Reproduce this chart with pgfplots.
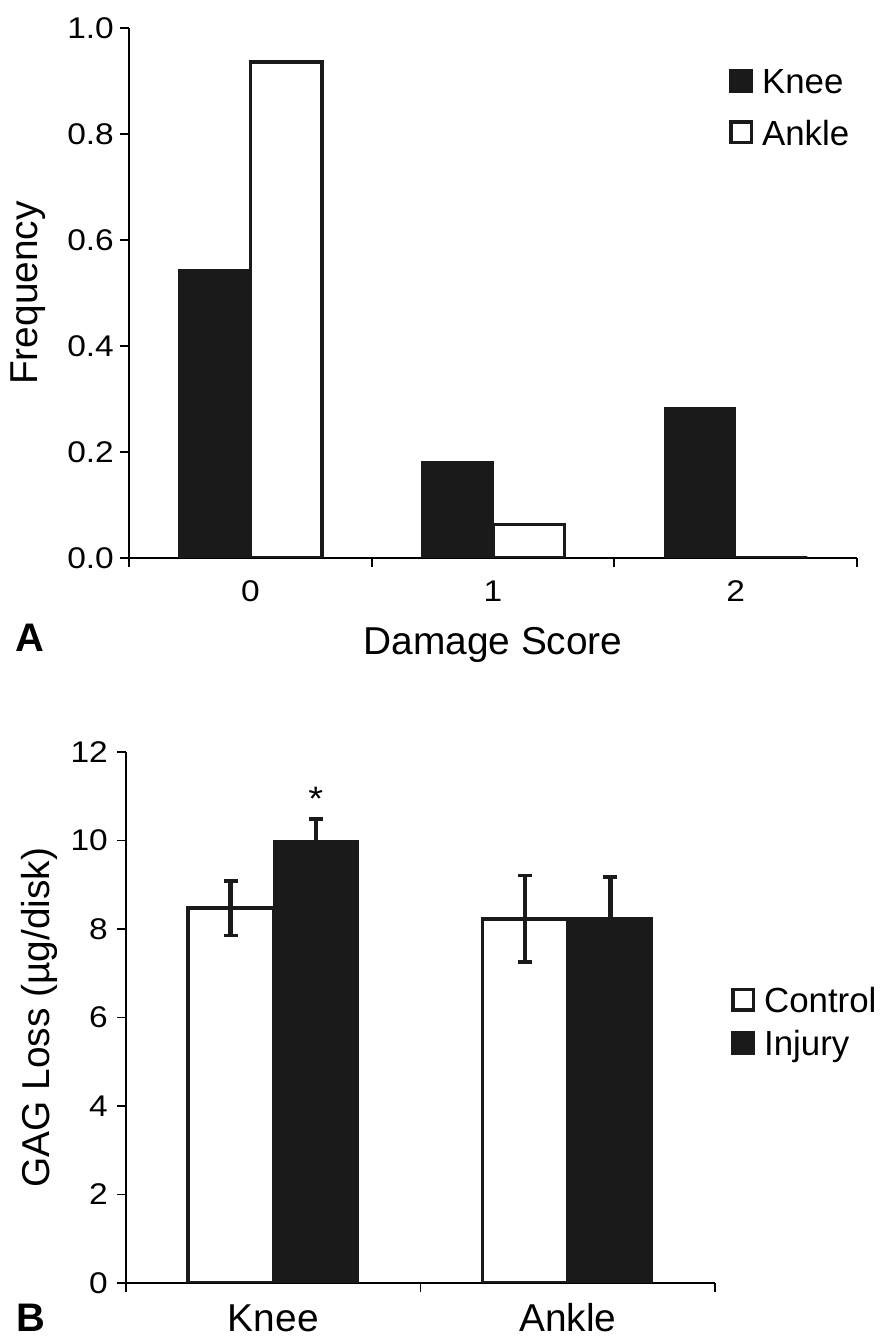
\documentclass[border=0pt]{standalone}
\usepackage{fontspec}
\setmainfont{Liberation Sans}
\newfontfamily\tickfam{Liberation Sans}[FakeStretch=1.12]
\usepackage{pgfplots}
\pgfplotsset{compat=1.18}

\definecolor{barblack}{HTML}{1A1A1A}
\newcommand{\tickfont}{\tickfam\fontsize{30}{36}\selectfont}
\newcommand{\labelfont}{\fontsize{39}{46}\selectfont}
\newcommand{\legfont}{\fontsize{35}{42}\selectfont}

\pgfplotsset{
  panel/.style={
    scale only axis,
    anchor=south west,
    axis x line*=bottom,
    axis y line*=left,
    axis line style={line width=1.8bp, black},
    tick align=outside,
    major tick length=9bp,
    every tick/.append style={black, line width=1.8bp},
    tick label style={font=\tickfont},
    /pgf/number format/assume math mode=true,
    yticklabel style={anchor=east, inner sep=0pt, xshift=-6bp},
    xticklabels={},
    ybar=0pt,
    ymin=0,
    label style={font=\labelfont},
    legend style={draw=none, fill=none, font=\legfont, inner sep=0pt,
      nodes={inner sep=0pt},
      /tikz/every odd column/.append style={column sep=9bp}},
    legend image code/.code={\draw[#1, line width=3.5bp] (1.75bp,-9.25bp) rectangle (22.25bp,11.25bp);},
    legend cell align=left,
  },
  blackbar/.style={fill=barblack, draw=barblack, line width=1bp},
  whitebar/.style={fill=white, draw=barblack, line width=3.5bp},
  errs/.style={
    error bars/y dir=both,
    error bars/y explicit,
    error bars/error bar style={line width=4.5bp, draw=barblack},
    error bars/error mark options={draw=barblack, line width=3.5bp, mark size=7bp, rotate=90},
  },
}

\begin{document}
\begin{tikzpicture}
\useasboundingbox (0,0) rectangle (885bp,1339bp);

% panel A
\begin{axis}[panel,
  at={(129bp,781bp)}, width=728bp, height=530bp,
  xmin=-0.5, xmax=2.5, ymax=1.0,
  xtick={-0.5,0.5,1.5,2.5},
  extra x ticks={0,1,2}, extra x tick labels={0,1,2},
  extra x tick style={major tick length=0pt, tick style={draw=none},
    tick label style={anchor=base, yshift=-44bp}},
  ytick={0,0.2,0.4,0.6,0.8,1.0},
  yticklabel style={/pgf/number format/.cd, fixed, fixed zerofill, precision=1},
  bar width=0.295,
  xlabel={Damage Score}, ylabel={Frequency},
  xlabel style={at={(axis description cs:0.5,0)}, anchor=base, yshift=-97bp},
  ylabel style={at={(axis description cs:-0.125,0.5)}, anchor=base},
  legend style={at={(axis description cs:0.824,0.923)}, anchor=north west, row sep=25bp},
]
\addplot[blackbar] coordinates {(0,0.545) (1,0.182) (2,0.283)};
\addplot[whitebar] coordinates {(0,0.936) (1,0.063) (2,0)};
\legend{Knee,Ankle}
\end{axis}

% panel B
\begin{axis}[panel,
  at={(126bp,56bp)}, width=589bp, height=531bp,
  xmin=-0.5, xmax=1.5, ymax=12,
  xtick={-0.5,0.5,1.5},
  extra x ticks={0,1}, extra x tick labels={Knee,Ankle},
  extra x tick style={major tick length=0pt, tick style={draw=none},
    tick label style={anchor=base, yshift=-48bp, font=\labelfont}},
  ytick={0,2,4,6,8,10,12},
  yticklabel style={xshift=-3bp},
  bar width=0.289,
  ylabel={GAG Loss (µg/disk)},
  ylabel style={at={(axis description cs:-0.1307,0.5)}, anchor=base},
  legend style={at={(axis description cs:1.027,0.557)}, anchor=north west, row sep=16bp},
]
\addplot[whitebar, errs] coordinates {(0,8.47) +- (0,0.62) (1,8.23) +- (0,0.98)};
\addplot[blackbar, errs] coordinates {(0,10.0) +- (0,0.49) (1,8.27) +- (0,0.90)};
\legend{Control,Injury}
\node[anchor=north, inner sep=0pt, font=\tickfam\fontsize{34}{40}\selectfont] at (axis cs:0.1445,11.22) {*};
\end{axis}

\node[anchor=base west, inner sep=0pt, font=\bfseries\fontsize{40}{46}\selectfont] at (15bp,687bp) {A};
\node[anchor=base west, inner sep=0pt, font=\bfseries\fontsize{40}{46}\selectfont] at (16bp,8bp) {B};
\end{tikzpicture}
\end{document}
